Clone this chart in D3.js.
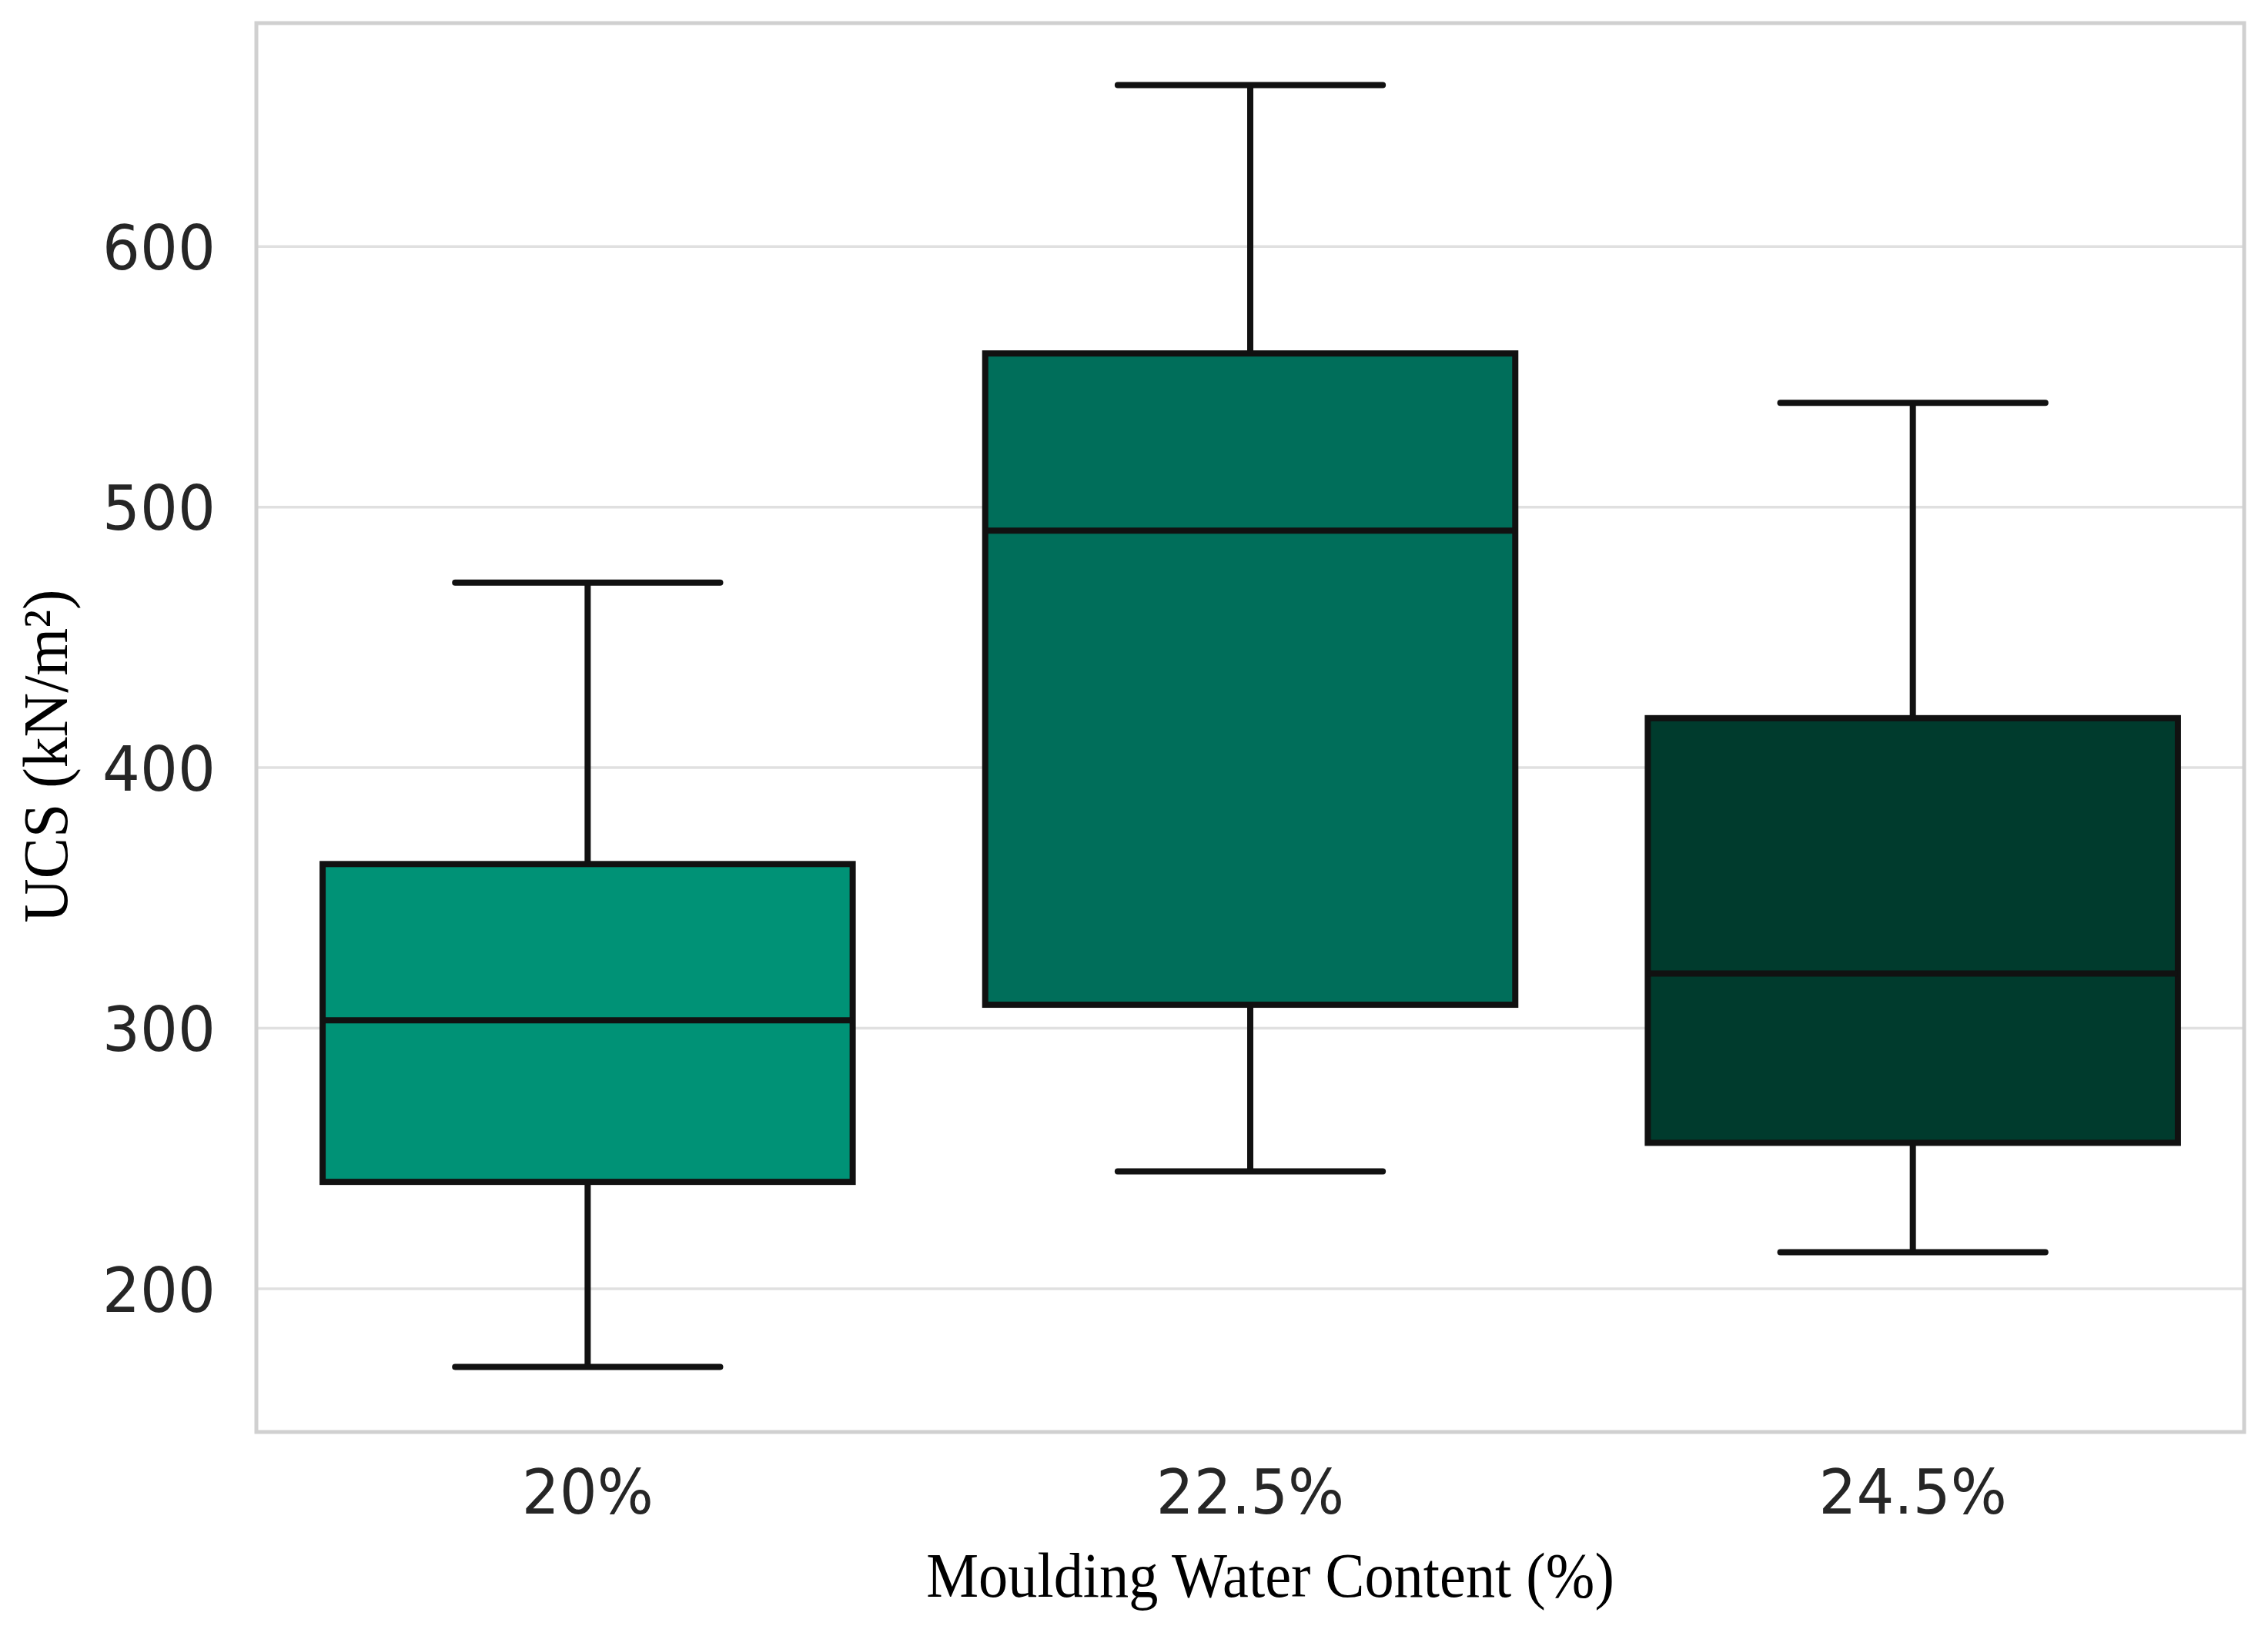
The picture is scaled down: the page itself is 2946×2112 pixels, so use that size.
<!DOCTYPE html>
<html>
<head>
<meta charset="utf-8">
<script src="https://cdn.jsdelivr.net/npm/d3@7"></script>
<style>
  html, body { margin: 0; padding: 0; background: #fff; }
</style>
</head>
<body>
<svg id="canvas" width="2946" height="2112"></svg>
<script>
// data
const categories = ["20%", "22.5%", "24.5%"]
const whiskerLow = [170, 245, 214]
const q1 = [241, 309, 256]
const median = [303, 491, 321]
const q3 = [363, 559, 419]
const whiskerHigh = [471, 662, 540]
const yTicks = [200, 300, 400, 500, 600]
const boxColors = ["#009276", "#006e5a", "#003b2d"]

const w = 2946, h = 2112
const plotLeft = 333, plotRight = 2915, plotTop = 30, plotBottom = 1860
// glyphs in the picture are a little narrower than the fonts
const tickSx = 0.95, titleSx = 0.92, ylabSx = 0.96

const svg = d3.select("#canvas")

const x = d3.scaleBand().domain(categories).range([plotLeft, plotRight]).paddingInner(0).paddingOuter(0)
const y = d3.scaleLinear().domain([145, 685.8]).range([plotBottom, plotTop])

svg.append("rect").attr("width", w).attr("height", h).attr("fill", "#fff")

// grid
svg.append("g")
    .selectAll("line")
    .data(yTicks)
    .join("line")
    .attr("x1", plotLeft).attr("x2", plotRight)
    .attr("y1", d => y(d)).attr("y2", d => y(d))
    .attr("stroke", "#e0e0e0")
    .attr("stroke-width", 3.5)

const boxes = categories.map((c, i) => ({
        cat: c, lo: whiskerLow[i], q1: q1[i], med: median[i], q3: q3[i], hi: whiskerHigh[i], color: boxColors[i]
}))

const bw = x.bandwidth() * 0.8
const g = svg.append("g")
    .selectAll("g")
    .data(boxes)
    .join("g")
    .attr("transform", d => "translate(" + (x(d.cat) + x.bandwidth() / 2) + ",0)")

const edge = "#111"
const lw = 8

// whiskers
g.append("line").attr("x1", 0).attr("x2", 0)
    .attr("y1", d => y(d.q3)).attr("y2", d => y(d.hi))
    .attr("stroke", edge).attr("stroke-width", lw)
g.append("line").attr("x1", 0).attr("x2", 0)
    .attr("y1", d => y(d.q1)).attr("y2", d => y(d.lo))
    .attr("stroke", edge).attr("stroke-width", lw)
// caps
g.append("line").attr("x1", -bw / 4).attr("x2", bw / 4)
    .attr("y1", d => y(d.hi)).attr("y2", d => y(d.hi))
    .attr("stroke", edge).attr("stroke-width", lw).attr("stroke-linecap", "round")
g.append("line").attr("x1", -bw / 4).attr("x2", bw / 4)
    .attr("y1", d => y(d.lo)).attr("y2", d => y(d.lo))
    .attr("stroke", edge).attr("stroke-width", lw).attr("stroke-linecap", "round")
// box
g.append("rect")
    .attr("x", -bw / 2).attr("width", bw)
    .attr("y", d => y(d.q3)).attr("height", d => y(d.q1) - y(d.q3))
    .attr("fill", d => d.color)
    .attr("stroke", edge).attr("stroke-width", lw)
// median
g.append("line").attr("x1", -bw / 2).attr("x2", bw / 2)
    .attr("y1", d => y(d.med)).attr("y2", d => y(d.med))
    .attr("stroke", edge).attr("stroke-width", lw)

// frame
svg.append("rect")
    .attr("x", plotLeft).attr("y", plotTop)
    .attr("width", plotRight - plotLeft).attr("height", plotBottom - plotTop)
    .attr("fill", "none")
    .attr("stroke", "#d0d0d0")
    .attr("stroke-width", 5)

// axes
const tickFont = "'DejaVu Sans', sans-serif"
const yAxis = svg.append("g")
    .attr("transform", "translate(" + plotLeft + ",0)")
    .call(d3.axisLeft(y).tickValues(yTicks).tickSize(0).tickFormat(d3.format("d")))
yAxis.select(".domain").remove()
yAxis.selectAll("text")
    .attr("x", -53 / tickSx)
    .attr("dy", "0.36em")
    .attr("transform", "scale(" + tickSx + ",1)")
    .style("font-family", tickFont)
    .style("font-size", "81px")
    .attr("fill", "#262626")

const xAxis = svg.append("g")
    .attr("transform", "translate(0," + plotBottom + ")")
    .call(d3.axisBottom(x).tickSize(0))
xAxis.select(".domain").remove()
xAxis.selectAll("text")
    .attr("y", 106)
    .attr("dy", 0)
    .attr("transform", "scale(" + tickSx + ",1)")
    .style("font-family", tickFont)
    .style("font-size", "81px")
    .attr("fill", "#262626")

// titles
svg.append("text")
    .attr("transform", "translate(1650,2074) scale(" + titleSx + ",1)")
    .attr("text-anchor", "middle")
    .style("font-family", "'Liberation Serif', 'Times New Roman', serif")
    .style("font-size", "83px")
    .attr("fill", "#000")
    .text("Moulding Water Content (%)")

svg.append("text")
    .attr("transform", "translate(87,982) rotate(-90) scale(" + ylabSx + ",1)")
    .attr("text-anchor", "middle")
    .style("font-family", "'Liberation Serif', 'Times New Roman', serif")
    .style("font-size", "83px")
    .attr("fill", "#000")
    .text("UCS (kN/m²)")
</script>
</body>
</html>
